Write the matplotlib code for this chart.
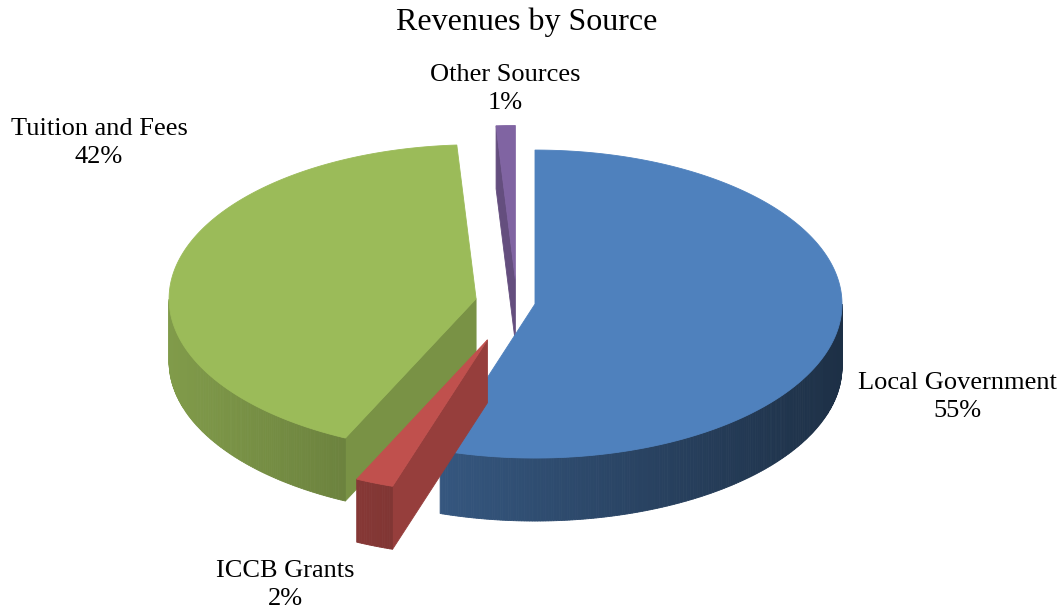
import numpy as np
import matplotlib.pyplot as plt
import matplotlib.colors as mcolors
from matplotlib.patches import Polygon

# revenue shares, clockwise from 12 o'clock
sources = ["Local Government", "ICCB Grants", "Tuition and Fees", "Other Sources"]
shares = [55, 2, 42, 1]
colors = ["#4F81BD", "#C0504D", "#9BBB59", "#8064A2"]
explode = [0.06, 0.26, 0.135, 0.15]

# label anchor points (pixels)
label_pos = [(957, 397), (285, 585), (99, 143), (505, 89)]

# pie geometry in pixels
CX, CY = 516.8, 302.6
RX, RY = 307, 154
DEPTH = 63
CUT = 0.78

plt.rcParams["font.family"] = ["Liberation Serif", "DejaVu Serif"]

fig = plt.figure(figsize=(10.63, 6.13), dpi=100)
ax = fig.add_axes([0, 0, 1, 1])
ax.set_xlim(0, 1063)
ax.set_ylim(613, 0)
ax.axis("off")


def shade(c, f):
    r, g, b = mcolors.to_rgb(c)
    return (r * f, g * f, b * f)


def rim(ox, oy, a):
    return ox + RX * np.cos(a), oy - RY * np.sin(a)


def side_light(a):
    return 0.6 + 0.23 * np.cos(a - np.pi)


def face(pts, col, z):
    ax.add_patch(Polygon(pts, closed=True, facecolor=col, edgecolor=col,
                         linewidth=0.6, zorder=z))


total = float(sum(shares))
start = 0.0
slices = []
for name, v, col, ex in zip(sources, shares, colors, explode):
    end = start + v / total * 360
    a1 = np.radians(90 - end)
    a2 = np.radians(90 - start)
    mid = (a1 + a2) / 2
    ox = CX + ex * RX * np.cos(mid)
    oy = CY - ex * RY * np.sin(mid)
    slices.append(dict(a1=a1, a2=a2, ox=ox, oy=oy, col=col))
    start = end

z = 1
for s in sorted(slices, key=lambda s: s["oy"]):
    a1, a2, ox, oy, col = s["a1"], s["a2"], s["ox"], s["oy"], s["col"]

    # radial cut faces that turn towards the viewer
    for a, nrm in ((a1, a1 - np.pi / 2), (a2, a2 + np.pi / 2)):
        if np.sin(nrm) < -0.01:
            x, y = rim(ox, oy, a)
            face([(ox, oy), (x, y), (x, y + DEPTH), (ox, oy + DEPTH)],
                 shade(col, CUT), z)
    z += 1

    # outer wall, front half only
    n = max(int(np.degrees(a2 - a1) * 2), 2)
    angs = np.linspace(a1, a2, n + 1)
    for b0, b1 in zip(angs[:-1], angs[1:]):
        m = (b0 + b1) / 2
        if np.sin(m) >= 0:
            continue
        x0, y0 = rim(ox, oy, b0)
        x1, y1 = rim(ox, oy, b1)
        face([(x0, y0), (x1, y1), (x1, y1 + DEPTH), (x0, y0 + DEPTH)],
             shade(col, side_light(m)), z)
    z += 1

    # top face
    xs, ys = rim(ox, oy, angs)
    face([(ox, oy)] + list(zip(xs, ys)), col, z)
    z += 1

for name, v, (lx, ly) in zip(sources, shares, label_pos):
    ax.text(lx, ly, f"{name}\n{v}%", ha="center", va="center",
            fontsize=19, linespacing=1.36, zorder=z)

ax.text(527, 22, "Revenues by Source", ha="center", va="center",
        fontsize=23, zorder=z)

fig.savefig("out.png", dpi=100, facecolor="white")
